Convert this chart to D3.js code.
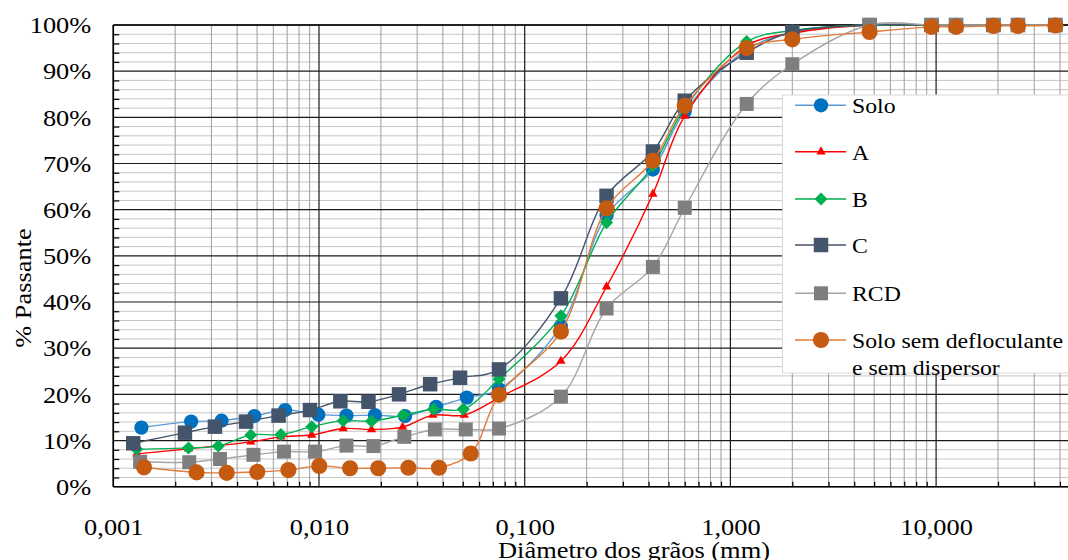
<!DOCTYPE html>
<html><head><meta charset="utf-8">
<script src="https://cdn.jsdelivr.net/npm/d3@7"></script>
<style>html,body{margin:0;padding:0;background:#fff;overflow:hidden}
text{font-family:"Liberation Serif","Times New Roman",serif;fill:#000}</style>
</head><body>
<svg id="c" width="1068" height="560"></svg>
<script>
// ---------- DATA ----------
const sieveSizes = [0.075, 0.15, 0.25, 0.42, 0.6, 1.2, 2.0, 4.75, 9.5, 12.5, 19, 25, 38];

const hydroSolo = [0.00137, 0.00239, 0.00336, 0.00485, 0.00684, 0.00993, 0.0136, 0.0187, 0.0262, 0.0371, 0.0523];
const passSolo  = [12.8, 14.1, 14.3, 15.3, 16.6, 15.6, 15.4, 15.5, 15.3, 17.3, 19.3,
                   21.1, 34.8, 58.8, 68.7, 81.3, 94.6, 98.4, 100, 100, 100, 100, 100, 100];

const hydroA = [0.0013, 0.00232, 0.00324, 0.00466, 0.00653, 0.00922, 0.0131, 0.0180, 0.0255, 0.0358, 0.0508];
const passA  = [7.1, 8.2, 8.9, 9.7, 10.8, 11.2, 12.6, 12.4, 12.9, 15.5, 15.5,
                19.3, 27.2, 43.3, 63.4, 80.3, 95.5, 98.2, 100, 100, 100, 100, 100, 100];

const hydroB = [0.0013, 0.00232, 0.00324, 0.00466, 0.00653, 0.00922, 0.0131, 0.0180, 0.0257, 0.0360, 0.0503];
const passB  = [8.1, 8.4, 8.8, 11.2, 11.3, 13.0, 14.3, 14.2, 15.5, 16.8, 16.8,
                23.3, 37.0, 57.2, 69.5, 82.0, 96.4, 98.8, 100, 100, 100, 100, 100, 100];

const hydroC = [0.00125, 0.00223, 0.00312, 0.00442, 0.00636, 0.00904, 0.0127, 0.0174, 0.0245, 0.0347, 0.0485];
const passC  = [9.4, 11.7, 13.0, 14.1, 15.4, 16.6, 18.5, 18.4, 20.0, 22.2, 23.6,
                25.4, 40.8, 63.0, 72.6, 83.6, 94.0, 98.5, 100, 100, 100, 100, 100, 100];

const hydroRCD = [0.00135, 0.00234, 0.0033, 0.0048, 0.00676, 0.00957, 0.0136, 0.0184, 0.026, 0.0366, 0.0517];
const passRCD  = [5.4, 5.3, 6.0, 6.9, 7.6, 7.6, 8.9, 8.8, 10.8, 12.4, 12.4,
                  12.6, 19.5, 38.6, 47.6, 60.4, 82.9, 91.5, 100, 100, 100, 100, 100, 100];

const hydroSem = [0.00141, 0.00254, 0.00356, 0.00501, 0.0071, 0.01003, 0.01415, 0.0194, 0.0272, 0.0383, 0.0547];
const passSem  = [4.2, 3.1, 3.0, 3.2, 3.6, 4.5, 4.0, 4.0, 4.1, 4.1, 7.2,
                  19.9, 33.6, 60.3, 70.6, 82.5, 95.0, 96.9, 98.5, 99.6, 99.6, 99.8, 99.8, 99.9];

const seriesNames = ["Solo", "A", "B", "C", "RCD", "Solo sem defloculante|e sem dispersor"];

const xTickValues = [0.001, 0.01, 0.1, 1, 10];
const xTickLabels = ["0,001", "0,010", "0,100", "1,000", "10,000"];
const yTickValues = [0, 10, 20, 30, 40, 50, 60, 70, 80, 90, 100];
const xTitle = "Diâmetro dos grãos (mm)";
const yTitle = "% Passante";

// ---------- STYLE ----------
const styles = [
  {line: "#5B9BD5", fill: "#0070C0", shape: "circle",   size: 160},
  {line: "#FF0000", fill: "#FF0000", shape: "triangle", size: 38},
  {line: "#00B050", fill: "#00B050", shape: "diamond",  size: 85},
  {line: "#44546A", fill: "#44546A", shape: "square",   size: 210},
  {line: "#A5A5A5", fill: "#7F7F7F", shape: "square",   size: 196},
  {line: "#E07B39", fill: "#C55A11", shape: "circle",   size: 205}
];

const svg = d3.select("#c");
const L = 113.3, T = 25, B = 486.7, dec = 205.7;
const x = d3.scaleLog().domain([0.001, 100]).range([L, L + 5 * dec]);
const y = d3.scaleLinear().domain([0, 100]).range([B, T]);
const R = 1068;

// ---------- GRID ----------
const g = svg.append("g");
const yMinor = d3.range(0, 101, 2).filter(v => v % 10 !== 0);
g.selectAll(".hm").data(yMinor).join("line")
  .attr("x1", L).attr("x2", R).attr("y1", d => y(d)).attr("y2", d => y(d))
  .attr("stroke", "#C6C6C6").attr("stroke-width", 1);
const xMinor = [];
[0.001, 0.01, 0.1, 1, 10].forEach(d => { for (let k = 2; k <= 9; k++) xMinor.push(k * d); });
g.selectAll(".vm").data(xMinor.filter(v => x(v) < R)).join("line")
  .attr("x1", d => x(d)).attr("x2", d => x(d)).attr("y1", T).attr("y2", B)
  .attr("stroke", "#A6A6A6").attr("stroke-width", 1.1);
g.selectAll(".hM").data(yTickValues).join("line")
  .attr("x1", L).attr("x2", R).attr("y1", d => y(d)).attr("y2", d => y(d))
  .attr("stroke", "#1a1a1a").attr("stroke-width", 1.2);
g.selectAll(".vM").data(xTickValues).join("line")
  .attr("x1", d => x(d)).attr("x2", d => x(d)).attr("y1", T).attr("y2", B)
  .attr("stroke", "#1a1a1a").attr("stroke-width", 1.2);

svg.append("g").attr("transform", `translate(${L},0)`)
  .call(d3.axisLeft(y).tickValues(yMinor).tickSize(-6).tickFormat(""))
  .call(a => a.select(".domain").remove())
  .selectAll("line").attr("stroke", "#000").attr("stroke-width", 1.2);
svg.append("g").attr("transform", `translate(0,${B})`)
  .call(d3.axisBottom(x).tickValues(xMinor.filter(v => x(v) < R)).tickSize(-5).tickFormat(""))
  .call(a => a.select(".domain").remove())
  .selectAll("line").attr("stroke", "#000").attr("stroke-width", 1.2);

svg.append("line").attr("x1", L).attr("x2", R).attr("y1", T).attr("y2", T).attr("stroke", "#000").attr("stroke-width", 1.3);
svg.append("line").attr("x1", L).attr("x2", R).attr("y1", B).attr("y2", B).attr("stroke", "#000").attr("stroke-width", 1.6);
svg.append("line").attr("x1", L).attr("x2", L).attr("y1", T).attr("y2", B).attr("stroke", "#000").attr("stroke-width", 1.6);

// ---------- AXES LABELS ----------
const yAx = svg.append("g").attr("transform", `translate(${L},0)`)
  .call(d3.axisLeft(y).tickValues(yTickValues).tickFormat(d => d + "%").tickSize(0).tickPadding(0));
yAx.select(".domain").remove();
yAx.selectAll("text").attr("x", -20).attr("font-size", 24)
  .attr("font-family", "Liberation Serif").attr("transform", "scale(1.1,1)").attr("fill", "#000");

const xAx = svg.append("g").attr("transform", `translate(0,${B})`)
  .call(d3.axisBottom(x).tickValues(xTickValues).tickFormat((d, i) => xTickLabels[i]).tickSize(0).tickPadding(31));
xAx.select(".domain").remove();
xAx.selectAll("text").attr("font-size", 24).attr("font-family", "Liberation Serif")
  .attr("transform", "scale(1.1,1)").attr("fill", "#000");

svg.append("text").attr("transform", "translate(634,558) scale(1.1,1)")
  .attr("text-anchor", "middle").attr("font-size", 24).text(xTitle);
svg.append("text").attr("transform", "translate(31,288) rotate(-90) scale(1.1,1)")
  .attr("text-anchor", "middle").attr("font-size", 24).text(yTitle);

// ---------- SERIES ----------
const hydros = [hydroSolo, hydroA, hydroB, hydroC, hydroRCD, hydroSem];
const passes = [passSolo, passA, passB, passC, passRCD, passSem];
const series = hydros.map((h, i) => h.concat(sieveSizes).map((d, j) => ({d: d, p: passes[i][j]})));

function symbolPath(shape, size) {
  if (shape === "circle") return d3.symbol(d3.symbolCircle, size)();
  if (shape === "triangle") return d3.symbol(d3.symbolTriangle, size)();
  return d3.symbol(d3.symbolSquare, size)();
}
const line = d3.line().x(d => x(d.d)).y(d => y(d.p)).curve(d3.curveCatmullRom.alpha(0.5));

series.forEach((s, i) => {
  const st = styles[i];
  const sg = svg.append("g");
  sg.append("path").datum(s).attr("d", line).attr("fill", "none")
    .attr("stroke", st.line).attr("stroke-width", 1.4);
  sg.selectAll("path.m").data(s).join("path").attr("class", "m")
    .attr("d", symbolPath(st.shape, st.size))
    .attr("transform", d => `translate(${x(d.d)},${y(d.p)})` + (st.shape === "diamond" ? " rotate(45)" : ""))
    .attr("fill", st.fill);
});

// ---------- LEGEND ----------
const lg = svg.append("g");
lg.append("rect").attr("x", 782.5).attr("y", 95).attr("width", 320).attr("height", 278)
  .attr("fill", "#fff").attr("stroke", "#D9D9D9").attr("stroke-width", 1);
const rowY = [105.3, 151.7, 199, 245, 293.3, 340];
seriesNames.forEach((n, i) => {
  const st = styles[i];
  const r = lg.append("g").attr("transform", `translate(0,${rowY[i]})`);
  r.append("line").attr("x1", 795).attr("x2", 846).attr("y1", 0).attr("y2", 0)
    .attr("stroke", st.line).attr("stroke-width", 1.4);
  r.append("path").attr("d", symbolPath(st.shape, st.size))
    .attr("transform", `translate(821,0)` + (st.shape === "diamond" ? " rotate(45)" : ""))
    .attr("fill", st.fill);
  n.split("|").forEach((t, k) => {
    r.append("text").attr("transform", `translate(852,${7.8 + k * 26.7}) scale(1.08,1)`)
      .attr("font-size", 22).text(t);
  });
});
</script>
</body></html>
